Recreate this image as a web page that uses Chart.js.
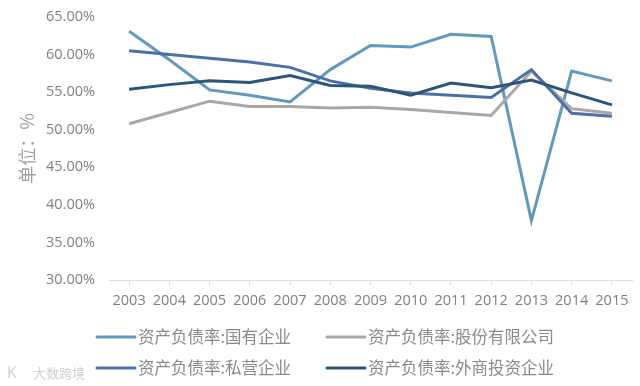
<!DOCTYPE html>
<html><head><meta charset="utf-8">
<style>html,body{margin:0;padding:0;background:#fff}#w{position:relative;width:640px;height:386px}canvas{filter:blur(0.45px)}</style>
<script src="https://cdn.jsdelivr.net/npm/chart.js@4/dist/chart.umd.min.js"></script>
</head><body><div id="w"><canvas id="c" width="640" height="386"></canvas></div>
<script>
const years = ['2003','2004','2005','2006','2007','2008','2009','2010','2011','2012','2013','2014','2015'];
const soe     = [63.1,59.3,55.3,54.6,53.7,58.0,61.2,61.0,62.7,62.4,37.9,57.8,56.5];
const joint   = [50.8,52.3,53.8,53.1,53.1,52.9,53.0,52.7,52.3,51.9,57.8,52.8,52.2];
const priv    = [60.5,60.0,59.5,59.0,58.3,56.5,55.5,54.9,54.6,54.3,58.0,52.2,51.8];
const foreign = [55.4,56.0,56.5,56.3,57.2,55.9,55.8,54.6,56.2,55.6,56.6,54.9,53.3];
const seriesNames = ['资产负债率:国有企业','资产负债率:股份有限公司','资产负债率:私营企业','资产负债率:外商投资企业'];
const seriesColors = ['#6299bf','#a8a8a8','#4a70a8','#2b5579'];
const seriesValues = [soe, joint, priv, foreign];
const unitTitle = '单位：%';
const watermarkMark = 'K';
const watermark = '大数跨境';
const textColor = '#7f7f7f';
const numFont = '"Open Sans","Noto Sans",sans-serif';
const cjkFont = '"Noto Sans CJK SC",sans-serif';

const legendGrid = {
  id:'legendGrid',
  afterDraw(chart){
    const ctx = chart.ctx;
    const cols = [97,327], rows = [337,368];
    ctx.save();
    chart.data.datasets.forEach((d,i)=>{
      const x = cols[i%2], y = rows[Math.floor(i/2)];
      ctx.strokeStyle = d.borderColor; ctx.lineWidth = 3; ctx.lineCap='round';
      ctx.beginPath(); ctx.moveTo(x,y); ctx.lineTo(x+38,y); ctx.stroke();
      ctx.fillStyle = '#8a8a8a';
      ctx.font = '16.5px '+cjkFont;
      ctx.textAlign='left'; ctx.textBaseline='middle';
      ctx.fillText(d.label,x+41,y);
    });
    ctx.fillStyle = '#d0d0d0';
    ctx.font = '16px '+numFont;
    ctx.fillText(watermarkMark,7,373);
    ctx.font = '13px '+cjkFont;
    ctx.fillText(watermark,33,373);
    ctx.restore();
  }
};

new Chart(document.getElementById('c'),{
  type:'line',
  data:{labels:years,datasets:seriesValues.map((v,i)=>({
    label:seriesNames[i],data:v,borderColor:seriesColors[i],backgroundColor:seriesColors[i],
    borderWidth:3,pointRadius:0,tension:0,fill:false,order:4-i
  }))},
  plugins:[legendGrid],
  options:{
    responsive:false,animation:false,
    layout:{padding:{top:17,right:8,left:0,bottom:0}},
    plugins:{legend:{display:false},tooltip:{enabled:false}},
    scales:{
      x:{
        offset:true,
        grid:{drawOnChartArea:false,drawTicks:true,tickLength:5,color:'#dcdcdc'},
        border:{color:'#dcdcdc',width:1},
        ticks:{color:textColor,font:{family:numFont,size:14.5},padding:7,maxRotation:0,autoSkip:false},
        afterFit(s){s.height=106;}
      },
      y:{
        min:30,max:65,
        grid:{display:false,drawTicks:false},
        border:{display:false},
        ticks:{stepSize:5,color:textColor,font:{family:numFont,size:14.5},padding:14,callback:v=>v.toFixed(2)+'%'},
        title:{display:true,text:unitTitle,color:'#a0a0a0',font:{family:cjkFont,size:18},padding:{top:16,bottom:0}},
        afterFit(s){s.width=109;s.paddingTop=0;s.paddingBottom=0;}
      }
    }
  }
});
</script></body></html>
